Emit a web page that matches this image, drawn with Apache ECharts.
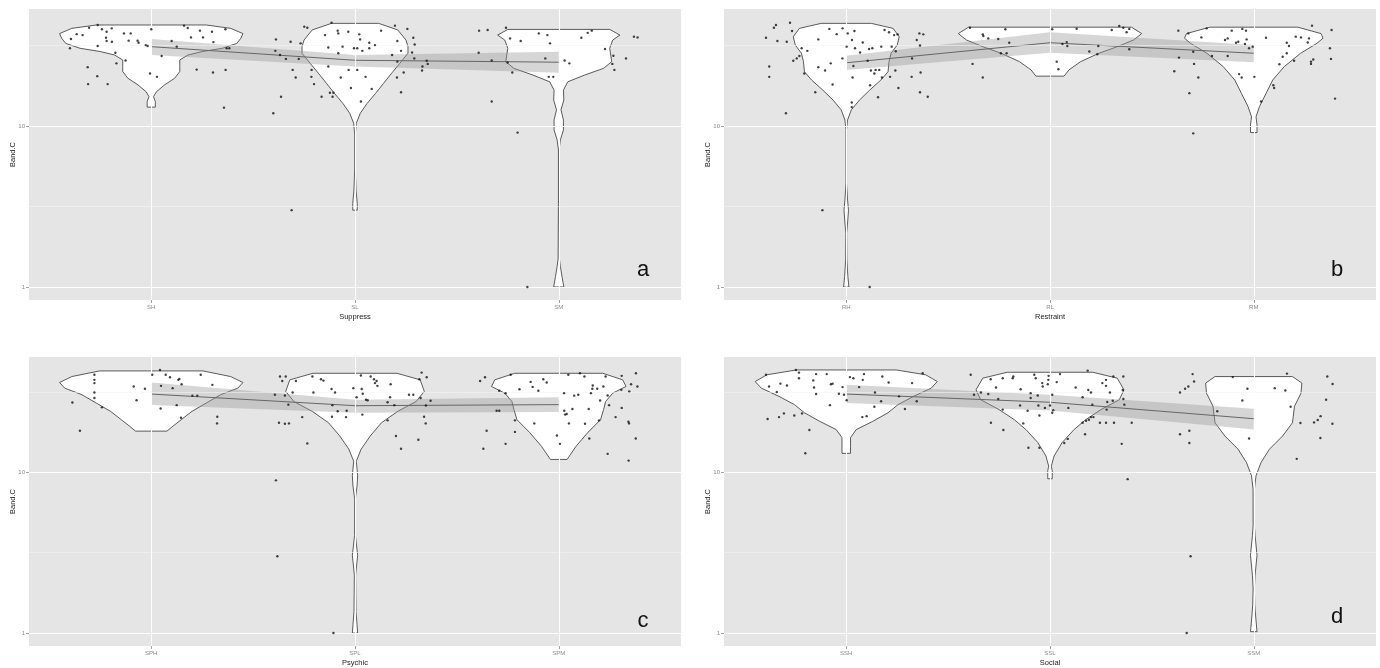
<!DOCTYPE html>
<html>
<head>
<meta charset="utf-8">
<script src="https://cdn.jsdelivr.net/npm/echarts@6/dist/echarts.min.js"></script>
<style>
html,body{margin:0;padding:0;background:#fff;}
#chart{width:1380px;height:668px;}
</style>
</head>
<body>
<div id="chart"></div>
<script>
// ---------------- DATA ----------------
const catsA = ['SH', 'SL', 'SM'];
const catsB = ['RH', 'RL', 'RM'];
const catsC = ['SPH', 'SPL', 'SPM'];
const catsD = ['SSH', 'SSL', 'SSM'];
const xTitles = ['Suppress', 'Restraint', 'Psychic', 'Social'];
const panelLetters = ['a', 'b', 'c', 'd'];
const yTitle = 'Band.C';
const yMajor = [1, 10];
const yMinor = [3.162, 31.62];

// violin outlines: [Band.C value, half width in category units], bottom to top
const vSH = [[13.1,0.02],[14.2,0.02],[15.2,0.011],[16.3,0.025],[18.0,0.065],[19.8,0.115],[21.8,0.14],[23.4,0.14],[25.7,0.14],[27.6,0.18],[29.0,0.25],[30.4,0.35],[32.6,0.42],[35.1,0.44],[37.5,0.45],[40.4,0.39],[42.4,0.27]];
const vSL = [[3.0,0.011],[3.3,0.011],[4.0,0.005],[5.6,0.001],[8.9,0.0015],[10.4,0.0065],[12.0,0.026],[13.8,0.059],[15.9,0.10],[18.4,0.14],[21.3,0.18],[24.5,0.22],[28.3,0.26],[31.1,0.26],[34.2,0.25],[39.5,0.21],[43.4,0.116]];
const vSM = [[1.0,0.025],[1.16,0.016],[1.34,0.008],[1.5,0.003],[3.47,0.0015],[7.1,0.0015],[8.2,0.008],[9.45,0.023],[10.9,0.023],[12.6,0.011],[14.5,0.025],[16.7,0.023],[18.8,0.044],[20.7,0.126],[22.8,0.22],[25.1,0.26],[30.4,0.25],[34.2,0.265],[36.7,0.30],[39.8,0.25]];
const vRH = [[1.0,0.013],[1.16,0.008],[1.47,0.003],[2.16,0.002],[2.5,0.0065],[3.0,0.011],[3.47,0.0065],[4.4,0.0015],[9.45,0.0015],[10.9,0.0065],[12.6,0.025],[14.5,0.065],[16.7,0.115],[19.3,0.17],[21.7,0.205],[25.1,0.21],[28.3,0.22],[31.8,0.25],[35.8,0.26],[40.4,0.23],[43.4,0.123]];
const vRL = [[20.4,0.069],[22.3,0.093],[25.1,0.15],[28.3,0.24],[31.1,0.33],[34.2,0.41],[37.5,0.45],[41.1,0.40]];
const vRM = [[9.1,0.016],[10.15,0.016],[11.4,0.011],[13.2,0.028],[15.9,0.06],[19.3,0.093],[23.4,0.15],[28.3,0.23],[32.6,0.31],[35.1,0.34],[37.5,0.33],[41.1,0.216]];
const vSPH = [[18.0,0.077],[19.3,0.106],[21.2,0.147],[23.9,0.20],[26.9,0.27],[30.3,0.34],[33.3,0.425],[36.1,0.45],[39.3,0.39],[42.6,0.254]];
const vSPL = [[1.0,0.013],[1.125,0.01],[1.36,0.005],[2.29,0.003],[3.04,0.013],[4.05,0.002],[6.8,0.0015],[8.2,0.01],[9.5,0.013],[11.7,0.0065],[13.9,0.03],[16.8,0.075],[20.3,0.13],[23.9,0.21],[27.5,0.30],[31.8,0.34],[37.5,0.32],[41.2,0.206]];
const vSPM = [[12.0,0.041],[14.5,0.085],[17.6,0.142],[21.2,0.205],[24.5,0.22],[27.5,0.23],[31.0,0.265],[34.1,0.33],[37.5,0.314],[41.2,0.216]];
const vSSH = [[13.1,0.021],[14.5,0.021],[16.4,0.021],[18.4,0.049],[20.7,0.13],[23.4,0.205],[26.3,0.254],[29.6,0.33],[33.3,0.417],[36.6,0.447],[40.3,0.39],[43.2,0.245]];
const vSSL = [[9.1,0.011],[10.2,0.011],[10.9,0.0065],[12.6,0.02],[15.3,0.06],[18.4,0.118],[21.2,0.175],[24.5,0.25],[28.2,0.34],[32.5,0.363],[38.4,0.33],[41.8,0.21]];
const vSSM = [[1.02,0.016],[1.24,0.01],[1.5,0.005],[1.9,0.003],[2.29,0.0065],[3.04,0.016],[4.05,0.0065],[4.66,0.003],[7.85,0.0033],[9.5,0.011],[11.5,0.036],[13.9,0.077],[16.8,0.142],[20.3,0.19],[25.7,0.2],[31.0,0.232],[35.8,0.236],[39.3,0.19]];

// smoother: fitted value and band per category
const fitA = [31.1, 25.6, 24.9], loA = [27.6, 23.4, 21.4], hiA = [34.7, 27.6, 28.9];
const fitB = [24.7, 32.9, 28.3], loB = [22.3, 28.5, 24.9], hiB = [27.3, 38.2, 31.8];
const fitC = [30.6, 25.9, 26.3], loC = [26.2, 23.4, 23.7], hiC = [36.1, 28.2, 29.2];
const fitD = [30.6, 27.2, 21.5], loD = [26.9, 24.2, 18.4], hiD = [34.9, 30.3, 24.8];

// jittered observations: [category position, Band.C]
const ptsA = [[0.737,42.4],[0.695,40.8],[0.634,37.2],[0.663,36.7],[0.606,34.7],[0.601,30.4],[0.758,39.9],[0.781,38.5],[0.806,40.4],[0.778,35.3],[0.781,33.7],[0.807,33.4],[0.737,31.4],[0.866,37.6],[0.899,37.6],[0.889,33.9],[0.933,33.9],[0.938,32.9],[0.973,31.8],[0.982,31.4],[1.000,39.9],[1.161,42.0],[1.179,40.6],[1.239,39.1],[1.298,38.5],[1.364,39.9],[1.195,35.5],[1.254,35.5],[1.305,33.2],[1.100,33.7],[1.125,31.1],[1.051,27.2],[0.824,28.5],[0.829,24.5],[0.874,25.5],[0.688,23.2],[0.735,20.4],[0.690,18.2],[0.786,18.2],[0.994,21.2],[1.028,20.2],[1.223,22.4],[1.303,21.5],[1.365,22.3],[1.357,13.0],[1.370,30.4],[1.383,30.4],
[1.612,34.5],[1.684,33.4],[1.609,29.3],[1.632,27.6],[1.661,26.1],[1.724,26.1],[1.694,22.3],[1.709,20.0],[1.751,41.4],[1.766,40.8],[1.733,32.6],[1.637,15.2],[1.599,12.0],[1.689,3.0],[1.787,22.3],[1.786,20.2],[1.799,18.2],[1.836,15.2],[1.853,36.7],[1.885,43.8],[1.915,39.1],[1.918,37.6],[1.967,38.5],[1.869,30.7],[1.939,31.1],[1.918,28.3],[2.021,37.1],[2.025,34.5],[1.995,30.4],[2.011,30.4],[2.036,29.3],[2.070,32.9],[2.070,30.4],[2.098,31.8],[2.128,39.1],[2.196,42.0],[2.257,40.1],[2.286,35.3],[2.293,32.1],[2.208,33.7],[2.226,29.3],[2.280,28.6],[2.291,26.3],[2.182,27.6],[2.208,25.1],[2.352,25.4],[2.357,24.3],[2.331,23.4],[2.329,22.1],[2.239,21.5],[2.206,20.0],[2.226,16.2],[2.082,17.0],[1.980,17.2],[2.052,20.2],[2.029,14.2],[1.930,20.0],[1.969,22.3],[2.011,22.3],[1.869,23.4],[1.877,16.1],[1.894,16.1],[1.890,15.2],
[2.609,39.1],[2.651,39.5],[2.741,40.8],[2.607,28.5],[2.671,25.5],[2.749,24.8],[2.772,21.5],[2.671,14.2],[2.798,9.1],[2.846,1.0],[2.761,35.0],[2.813,33.7],[2.902,37.6],[2.944,36.7],[2.957,32.6],[2.934,26.3],[2.951,20.2],[2.973,20.2],[3.029,25.5],[3.052,24.5],[3.111,35.3],[3.142,37.9],[3.162,39.1],[3.227,30.1],[3.268,27.3],[3.263,24.3],[3.273,22.3],[3.330,26.3],[3.369,35.9],[3.387,35.5]];

const ptsB = [[0.606,35.3],[0.622,23.4],[0.622,20.2],[0.645,40.8],[0.655,42.4],[0.662,33.7],[0.708,33.4],[0.724,43.8],[0.734,38.9],[0.704,12.0],[0.740,25.4],[0.757,26.3],[0.770,27.2],[0.781,30.4],[0.809,29.3],[0.794,21.2],[0.848,16.2],[0.863,34.5],[0.863,23.2],[0.896,22.1],[0.917,40.1],[0.924,24.5],[0.933,18.1],[0.953,37.2],[0.982,40.4],[0.981,26.3],[1.002,31.1],[1.007,37.6],[1.028,34.2],[1.035,23.6],[1.031,20.0],[1.040,38.9],[1.043,30.4],[1.068,28.6],[1.081,33.0],[1.105,25.4],[1.112,30.1],[1.128,30.4],[1.121,22.1],[1.138,21.2],[1.144,22.3],[1.162,22.3],[1.117,17.9],[1.156,15.1],[1.172,31.1],[1.175,20.0],[1.188,39.5],[1.210,38.2],[1.223,31.1],[1.235,36.7],[1.252,37.1],[1.243,29.1],[1.241,22.1],[1.215,20.2],[1.256,17.2],[1.323,26.3],[1.321,20.2],[1.346,34.2],[1.359,37.6],[1.378,37.1],[1.362,31.6],[1.365,21.5],[1.362,16.2],[1.400,15.2],[1.027,14.0],[1.027,13.1],[0.883,3.0],[1.115,1.0],
[1.607,40.8],[1.620,24.3],[1.670,37.1],[1.673,36.2],[1.670,20.0],[1.697,35.0],[1.746,34.7],[1.759,28.3],[1.787,28.3],[1.781,39.9],[1.800,32.9],[2.011,39.9],[2.033,25.1],[2.041,22.5],[2.061,32.3],[2.082,33.2],[2.085,31.4],[2.131,40.2],[2.193,29.0],[2.232,27.9],[2.237,31.4],[2.303,39.5],[2.340,41.8],[2.360,40.8],[2.376,38.2],[2.389,40.1],[2.389,30.0],
[2.630,39.1],[2.679,37.6],[2.743,35.5],[2.703,28.9],[2.633,26.6],[2.610,21.9],[2.707,24.3],[2.728,20.0],[2.684,16.0],[2.703,9.0],[2.769,40.4],[2.795,27.2],[2.859,34.2],[2.872,35.0],[2.892,39.1],[2.913,32.9],[2.924,33.4],[2.944,40.1],[2.962,39.1],[2.965,34.5],[2.957,32.3],[2.977,30.4],[2.995,31.1],[2.872,27.2],[2.928,21.0],[2.941,20.0],[3.003,20.2],[3.036,14.2],[3.060,35.3],[3.096,17.9],[3.100,17.2],[3.126,24.2],[3.142,26.9],[3.162,32.9],[3.173,31.4],[3.162,28.3],[3.198,25.4],[3.206,35.9],[3.232,35.5],[3.265,33.0],[3.271,35.0],[3.286,42.0],[3.281,25.1],[3.281,24.3],[3.292,25.9],[3.374,30.4],[3.382,39.5],[3.379,26.1],[3.399,14.8]];

const ptsC = [[0.613,27.1],[0.650,18.1],[0.721,40.3],[0.721,37.5],[0.721,35.8],[0.721,31.3],[0.721,28.9],[0.758,25.3],[0.914,34.1],[0.928,28.0],[0.969,33.0],[1.005,40.3],[1.048,34.4],[1.046,24.9],[1.043,43.2],[1.071,40.3],[1.092,38.9],[1.105,33.3],[1.133,37.5],[1.138,38.0],[1.149,35.2],[1.125,26.1],[1.146,21.8],[1.202,29.9],[1.226,29.9],[1.243,40.3],[1.300,34.9],[1.324,22.1],[1.323,20.1],
[1.607,30.3],[1.632,39.3],[1.643,36.9],[1.660,39.3],[1.656,30.0],[1.673,26.3],[1.627,20.3],[1.656,20.0],[1.676,20.1],[1.694,31.3],[1.710,36.9],[1.741,22.0],[1.766,15.1],[1.612,8.9],[1.619,3.0],[1.894,1.0],[1.796,31.3],[1.791,39.3],[1.833,37.8],[1.845,37.1],[1.885,32.9],[1.902,31.3],[1.889,26.1],[1.887,22.1],[1.915,23.9],[1.959,24.1],[1.956,22.0],[1.992,33.3],[2.008,29.2],[2.029,39.9],[2.033,32.9],[2.038,30.7],[2.054,28.2],[2.062,28.0],[2.036,22.8],[2.077,39.3],[2.093,37.8],[2.098,35.8],[2.106,36.9],[2.110,34.4],[2.175,35.2],[2.160,27.2],[2.172,29.2],[2.193,26.1],[2.160,21.0],[2.201,16.8],[2.226,14.0],[2.265,30.3],[2.286,30.3],[2.311,15.9],[2.316,37.8],[2.327,41.6],[2.352,38.9],[2.322,28.9],[2.348,26.0],[2.339,22.1],[2.347,20.1],[2.371,27.8],
[2.614,36.9],[2.638,38.9],[2.646,18.1],[2.630,14.0],[2.695,24.1],[2.708,24.1],[2.708,32.1],[2.739,31.0],[2.739,15.0],[2.764,40.3],[2.785,21.0],[2.785,17.8],[2.807,32.8],[2.862,36.4],[2.872,33.9],[2.880,20.1],[2.900,32.1],[2.924,37.8],[2.941,36.1],[2.991,16.9],[3.006,15.0],[3.026,31.0],[3.027,24.1],[3.031,22.8],[3.039,23.0],[3.047,40.3],[3.050,20.1],[3.067,24.7],[3.076,29.9],[3.096,30.3],[3.104,41.2],[3.126,39.3],[3.147,24.7],[3.129,20.0],[3.150,16.2],[3.158,31.0],[3.165,33.0],[3.167,34.6],[3.189,33.0],[3.198,21.0],[3.203,27.9],[3.219,34.1],[3.230,39.3],[3.240,30.0],[3.247,26.1],[3.240,13.0],[3.279,22.0],[3.307,32.5],[3.309,25.1],[3.309,39.7],[3.342,20.6],[3.345,20.1],[3.346,31.8],[3.355,35.2],[3.378,16.2],[3.379,41.2],[3.386,34.1],[3.343,11.8]];

const ptsD = [[0.606,40.3],[0.621,34.1],[0.614,21.4],[0.659,31.5],[0.670,22.0],[0.677,35.5],[0.694,23.2],[0.709,34.6],[0.745,22.5],[0.753,43.2],[0.768,41.6],[0.768,38.4],[0.783,23.2],[0.799,13.1],[0.819,18.3],[0.838,37.2],[0.842,33.6],[0.852,40.7],[0.852,30.6],[0.904,40.7],[0.920,26.1],[0.925,35.2],[0.933,35.5],[0.964,30.7],[0.982,33.8],[0.989,30.3],[1.002,28.0],[1.018,39.0],[1.035,38.4],[1.063,33.8],[1.081,37.5],[1.087,40.7],[1.079,22.0],[1.100,22.3],[1.141,31.3],[1.138,25.5],[1.171,27.6],[1.177,39.3],[1.208,36.1],[1.259,29.6],[1.288,24.7],[1.323,35.8],[1.346,27.6],[1.375,41.2],
[1.611,40.3],[1.627,30.3],[1.661,31.3],[1.697,30.6],[1.709,37.8],[1.710,20.3],[1.735,33.6],[1.746,28.5],[1.768,24.5],[1.771,18.3],[1.768,38.4],[1.817,38.4],[1.820,39.3],[1.856,32.8],[1.853,26.0],[1.869,20.1],[1.890,24.1],[1.894,14.2],[1.905,31.0],[1.905,28.9],[1.923,40.3],[1.930,38.4],[1.940,30.0],[1.943,26.0],[1.948,22.5],[1.948,14.2],[1.962,35.8],[1.964,34.1],[1.975,25.1],[1.989,35.2],[1.992,37.5],[1.993,39.7],[2.000,26.0],[2.011,30.3],[2.011,23.4],[2.016,24.3],[2.033,36.3],[2.049,40.7],[2.070,15.2],[2.087,16.1],[2.090,25.1],[2.126,33.6],[2.160,29.2],[2.160,20.3],[2.172,17.2],[2.177,20.9],[2.185,42.8],[2.188,32.4],[2.201,31.3],[2.191,21.2],[2.201,22.0],[2.213,22.0],[2.208,26.3],[2.245,20.3],[2.257,35.8],[2.275,37.5],[2.275,34.4],[2.278,24.5],[2.275,20.3],[2.281,27.3],[2.294,31.3],[2.308,27.8],[2.311,39.3],[2.314,20.3],[2.352,15.0],[2.360,39.3],[2.357,32.4],[2.360,28.5],[2.365,26.3],[2.381,9.05],[2.401,20.3],
[2.638,31.3],[2.663,33.0],[2.679,34.1],[2.700,40.7],[2.707,36.6],[2.638,17.2],[2.684,18.1],[2.684,15.2],[2.690,3.0],[2.671,1.0],[2.821,23.9],[2.897,39.0],[2.944,27.9],[2.969,33.0],[2.977,16.2],[3.103,33.3],[3.155,32.2],[3.163,41.0],[3.181,25.5],[3.211,12.1],[3.229,20.2],[3.296,20.4],[3.314,21.1],[3.328,22.3],[3.327,16.3],[3.355,28.2],[3.361,39.3],[3.387,35.3],[3.386,20.0]];

// ---------------- LAYOUT / STYLE ----------------
const panels = [
  {cats: catsA, violins: [vSH, vSL, vSM], pts: ptsA, fit: fitA, lo: loA, hi: hiA, grid: {left: 29, top: 9}, yr: [0.83, 53.3], letterPos: [643, 270]},
  {cats: catsB, violins: [vRH, vRL, vRM], pts: ptsB, fit: fitB, lo: loB, hi: hiB, grid: {left: 724, top: 9}, yr: [0.83, 53.3], letterPos: [1337, 270]},
  {cats: catsC, violins: [vSPH, vSPL, vSPM], pts: ptsC, fit: fitC, lo: loC, hi: hiC, grid: {left: 29, top: 357}, yr: [0.831, 52.0], letterPos: [643, 621]},
  {cats: catsD, violins: [vSSH, vSSL, vSSM], pts: ptsD, fit: fitD, lo: loD, hi: hiD, grid: {left: 724, top: 357}, yr: [0.831, 52.0], letterPos: [1337, 617]}
];
const FONT = 'Liberation Sans, Arial, sans-serif';
const GW = 652, GH = 291;

const grids = [], xAxes = [], yAxes = [], series = [], graphics = [];
panels.forEach((p, g) => {
  grids.push({left: p.grid.left, top: p.grid.top, width: GW, height: GH, show: true,
    backgroundColor: '#e5e5e5', borderWidth: 0, containLabel: false});
  xAxes.push({
    type: 'value', gridIndex: g, min: 0.4, max: 3.6,
    axisLine: {show: false}, splitLine: {show: false},
    axisTick: {show: true, customValues: [1, 2, 3], length: 3, lineStyle: {color: '#8a8a8a', width: 0.8}},
    axisLabel: {customValues: [1, 2, 3], formatter: v => p.cats[Math.round(v) - 1] || '',
      color: '#8a8a8a', fontSize: 6, margin: 4, fontFamily: FONT},
    name: xTitles[g], nameLocation: 'middle', nameGap: 13, nameMoveOverlap: false,
    nameTextStyle: {fontSize: 7.5, color: '#222', fontFamily: FONT}
  });
  yAxes.push({
    type: 'log', logBase: 10, gridIndex: g, min: p.yr[0], max: p.yr[1],
    axisLine: {show: false}, splitLine: {show: false}, minorSplitLine: {show: false},
    axisTick: {show: true, length: 3, lineStyle: {color: '#8a8a8a', width: 0.8}},
    axisLabel: {showMinLabel: false, showMaxLabel: false,
      formatter: v => (yMajor.indexOf(Math.round(v * 1000) / 1000) >= 0 ? String(Math.round(v)) : ''),
      color: '#8a8a8a', fontSize: 6, margin: 4, fontFamily: FONT},
    name: yTitle, nameLocation: 'middle', nameGap: 12, nameRotate: 90, nameMoveOverlap: false,
    nameTextStyle: {fontSize: 7.5, color: '#222', fontFamily: FONT}
  });
  // grid lines
  series.push({
    type: 'line', xAxisIndex: g, yAxisIndex: g, data: [], z: 1, silent: true,
    markLine: {silent: true, symbol: ['none', 'none'], label: {show: false}, animation: false,
      lineStyle: {color: '#f4f4f4', width: 0.6, type: 'solid'},
      emphasis: {disabled: true},
      data: yMinor.map(v => ({yAxis: v}))}
  });
  series.push({
    type: 'line', xAxisIndex: g, yAxisIndex: g, data: [], z: 1, silent: true,
    markLine: {silent: true, symbol: ['none', 'none'], label: {show: false}, animation: false,
      lineStyle: {color: '#ffffff', width: 1.1, type: 'solid'},
      emphasis: {disabled: true},
      data: [1, 2, 3].map(v => ({xAxis: v})).concat(yMajor.map(v => ({yAxis: v})))}
  });
  // violins
  series.push({
    type: 'custom', xAxisIndex: g, yAxisIndex: g, z: 2, silent: true,
    data: p.violins.map((v, i) => [i + 1, 10]),
    renderItem: (params, api) => {
      const idx = params.dataIndex;
      const prof = p.violins[idx];
      const c = idx + 1;
      const left = prof.map(([y, w]) => api.coord([c - w, y]));
      const right = prof.slice().reverse().map(([y, w]) => api.coord([c + w, y]));
      return {type: 'polygon', shape: {points: left.concat(right)},
        style: {fill: '#ffffff', stroke: '#4a4a4a', lineWidth: 0.9}};
    }
  });
  // smoother band
  series.push({
    type: 'custom', xAxisIndex: g, yAxisIndex: g, z: 3, silent: true,
    data: [[2, 10]],
    renderItem: (params, api) => {
      const up = p.hi.map((v, i) => api.coord([i + 1, v]));
      const dn = p.lo.map((v, i) => api.coord([i + 1, v])).reverse();
      return {type: 'polygon', shape: {points: up.concat(dn)},
        style: {fill: 'rgba(153,153,153,0.4)', stroke: null}};
    }
  });
  // smoother line
  series.push({
    type: 'line', xAxisIndex: g, yAxisIndex: g, z: 4, silent: true,
    data: p.fit.map((v, i) => [i + 1, v]), showSymbol: false, symbol: 'none',
    lineStyle: {color: '#666666', width: 1}
  });
  // points
  series.push({
    type: 'scatter', xAxisIndex: g, yAxisIndex: g, z: 5, silent: true,
    data: p.pts, symbolSize: 2.4, itemStyle: {color: '#111111'}
  });
  graphics.push({type: 'text', x: p.letterPos[0], y: p.letterPos[1], z: 10,
    style: {text: panelLetters[g], fontSize: 22, fontFamily: FONT, fill: '#111111',
      align: 'center', verticalAlign: 'middle'}});
});

const chart = echarts.init(document.getElementById('chart'), null, {renderer: 'canvas'});
chart.setOption({
  animation: false,
  backgroundColor: '#ffffff',
  grid: grids, xAxis: xAxes, yAxis: yAxes, series: series, graphic: graphics
});
</script>
</body>
</html>
